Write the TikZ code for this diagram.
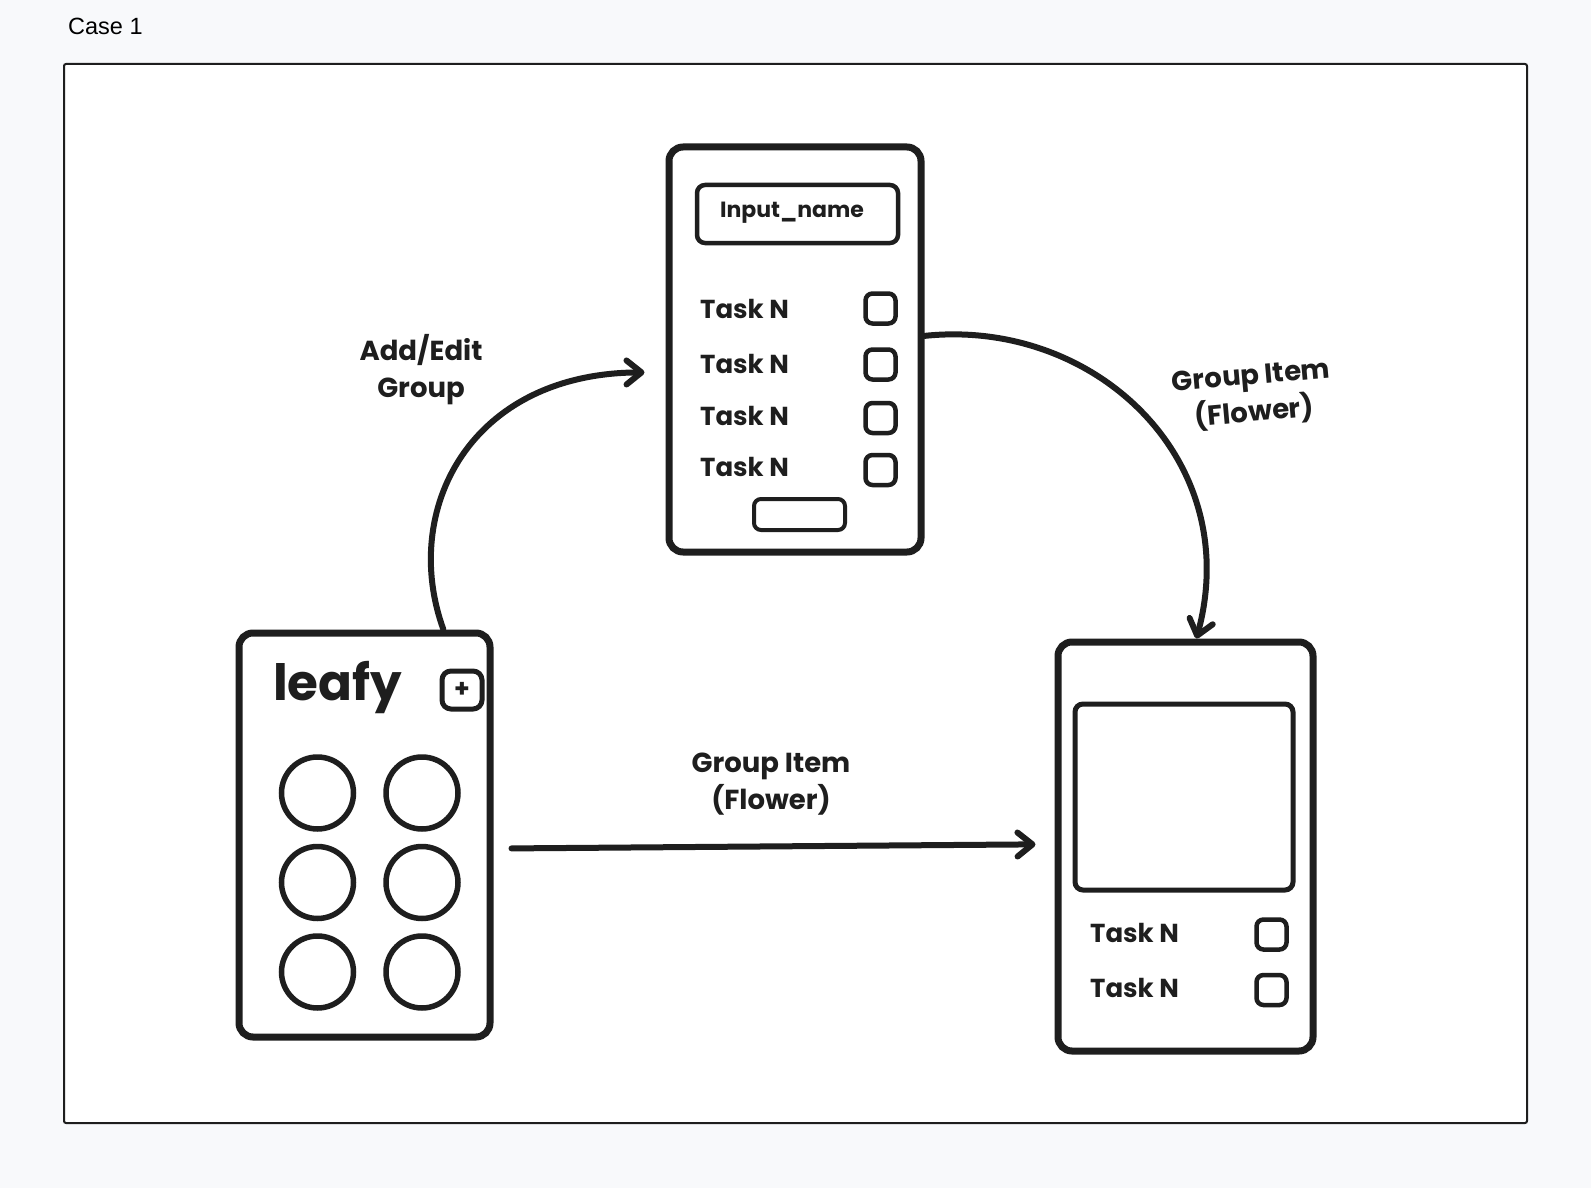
\documentclass[tikz,border=0pt]{standalone}
\usepackage{fontspec}
\setmainfont{Poppins}
\newfontfamily\casefont{Liberation Sans}
\usetikzlibrary{arrows.meta}
\definecolor{sketch}{HTML}{1E1E1E}
\definecolor{canvas}{HTML}{F8F9FB}

\begin{document}
\begin{tikzpicture}[x=1pt, y=-1pt, color=sketch,
    phone/.style = {draw, line width=7pt, rounded corners=14pt, inner sep=0pt},
    tick/.style = {draw, line width=4.5pt, rounded corners=7pt, minimum size=30pt, inner sep=0pt},
    dot/.style = {draw, circle, line width=5.5pt, minimum size=72pt, inner sep=0pt},
    task/.style = {anchor=base west, inner sep=0pt, font=\fontsize{26}{30}\selectfont\bfseries},
    lbl/.style = {align=center, font=\fontsize{27.5}{37}\selectfont\bfseries},
    flow/.style = {line width=6pt, line cap=round, -{Straight Barb[length=15pt, width=24pt, round]}}]
    \fill[canvas] (0,0) rectangle (1591,1188);
    \useasboundingbox (0,0) rectangle (1591,1188);
    \node[anchor=base west, inner sep=0pt, text=black, font=\casefont\fontsize{23.5}{28}\selectfont] (case) at (68,35) {Case 1};
    \node[draw, fill=white, line width=2pt, rounded corners=2pt, minimum width=1463pt, minimum height=1059pt, inner sep=0pt] (frame) at (795.5,593.5) {};

    % screens
    \node[phone, minimum width=251pt, minimum height=404pt] (home) at (364.5,835) {};
    \node[phone, minimum width=252pt, minimum height=405pt] (editor) at (795,349.5) {};
    \node[phone, minimum width=255pt, minimum height=409pt] (view) at (1185.5,846.5) {};

    % home screen
    \node[anchor=base west, inner sep=0pt, font=\fontsize{50}{52}\selectfont\bfseries] (logo) at (273,700) {leafy};
    \node[draw, line width=5pt, rounded corners=9pt, minimum width=40pt, minimum height=38pt, inner sep=0pt, font=\fontsize{25}{25}\selectfont\bfseries] (plus) at (462,690) {+};
    \node[dot] (f1) at (317.5,793) {};
    \node[dot] (f2) at (422,793) {};
    \node[dot] (f3) at (317.5,882.5) {};
    \node[dot] (f4) at (422,882.5) {};
    \node[dot] (f5) at (317.5,972) {};
    \node[dot] (f6) at (422,972) {};

    % editor screen
    \node[draw, line width=4.5pt, rounded corners=8pt, minimum width=201pt, minimum height=58pt, inner sep=0pt] (name) at (797.5,214) {};
    \node[font=\fontsize{22}{24}\selectfont\bfseries] (namelbl) at (792,213) {Input\_name};
    \node[task] (e1) at (700,318) {Task N};
    \node[task] (e2) at (700,373) {Task N};
    \node[task] (e3) at (700,425) {Task N};
    \node[task] (e4) at (700,476) {Task N};
    \node[tick] (e1box) at (880.5,308.5) {};
    \node[tick] (e2box) at (880.5,364.5) {};
    \node[tick] (e3box) at (880.5,418) {};
    \node[tick] (e4box) at (880.5,470) {};
    \node[draw, line width=4pt, rounded corners=7pt, minimum width=91pt, minimum height=31pt, inner sep=0pt] (save) at (799.5,514.5) {};

    % flower screen
    \node[draw, line width=5pt, rounded corners=8pt, minimum width=218pt, minimum height=186pt, inner sep=0pt] (photo) at (1184,797) {};
    \node[task] (v1) at (1090,942) {Task N};
    \node[task] (v2) at (1090,997) {Task N};
    \node[tick] (v1box) at (1271.5,934.5) {};
    \node[tick] (v2box) at (1271.5,990) {};

    % transitions
    \draw[flow, shorten >=21pt] (home.69) .. controls (400,510) and (470,373) .. (editor.190);
    \draw[flow] (editor.6) .. controls (1095,318) and (1245,460) .. (view.87);
    \draw[flow, shorten <=18pt, shorten >=19pt] (home.-6) -- (view.179);
    \node[lbl] (addlbl) at (421,370) {Add/Edit\\Group};
    \node[lbl, rotate=5] (itemlbl) at (1253,396) {Group Item\\(Flower)};
    \node[lbl] (openlbl) at (771,784) {Group Item\\(Flower)};
\end{tikzpicture}
\end{document}
